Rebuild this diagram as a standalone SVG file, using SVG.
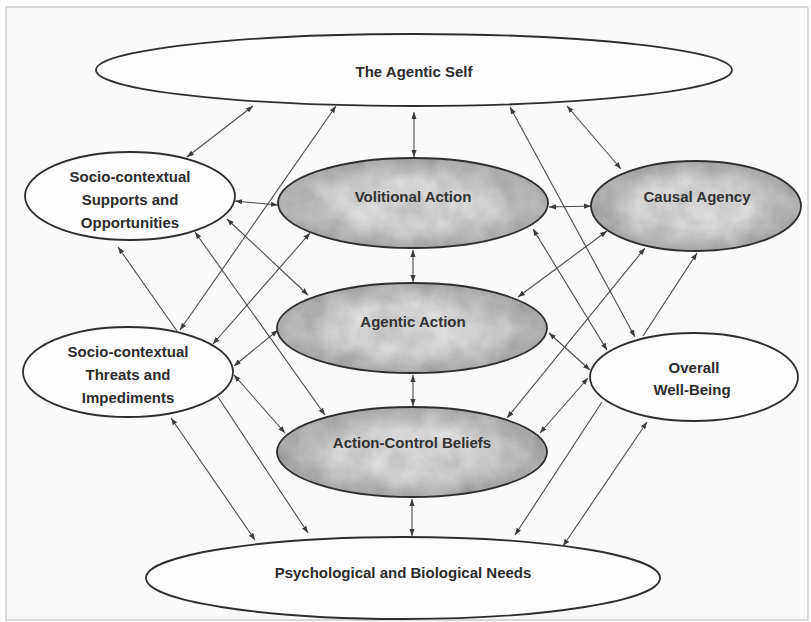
<svg xmlns="http://www.w3.org/2000/svg" width="811" height="622" viewBox="0 0 811 622">
  <style>
    .node { stroke: #2e2e2e; stroke-width: 1.8; }
    .plain { fill: #fdfdfd; }
    .lbl { font-family: "Liberation Sans", Arial, sans-serif; font-weight: bold; font-size: 15px; fill: #2c2c2c; text-anchor: middle; }
    .lbl.dark { fill: #333333; }
    .conn line { stroke: #4a4a4a; stroke-width: 1.1; fill: none; }
    .both { marker-start: url(#ah); marker-end: url(#ah); }
    .one { marker-end: url(#ah); }
  </style>
  <defs>
    <marker id="ah" viewBox="0 0 10 10" refX="10" refY="5" markerWidth="7" markerHeight="7" markerUnits="userSpaceOnUse" orient="auto-start-reverse">
      <path d="M0,1.3 L10,5 L0,8.7 z" fill="#3a3a3a"/>
    </marker>
    <filter id="mottle" x="0" y="0" width="1" height="1">
      <feTurbulence type="fractalNoise" baseFrequency="0.04" numOctaves="4" seed="7" result="noise"/>
      <feColorMatrix in="noise" type="matrix" values="0.34 0 0 0 0.46  0.34 0 0 0 0.46  0.34 0 0 0 0.46  0 0 0 0 1" result="gray"/>
      <feComposite in="gray" in2="SourceGraphic" operator="in"/>
    </filter>
    <radialGradient id="edge" cx="0.5" cy="0.5" r="0.5">
      <stop offset="0.5" stop-color="#000" stop-opacity="0"/>
      <stop offset="1" stop-color="#000" stop-opacity="0.2"/>
    </radialGradient>
  </defs>

  <rect x="0" y="0" width="811" height="622" fill="#ffffff"/>
  <rect x="6" y="7" width="802" height="613" fill="#fafafa" stroke="#cfcfcf" stroke-width="1.6"/>

  <g id="agentic-self">
    <ellipse class="node plain" cx="414" cy="70" rx="318" ry="36"/>
    <text class="lbl" x="414" y="77">The Agentic Self</text>
  </g>

  <g id="supports">
    <ellipse class="node plain" cx="130" cy="196" rx="105" ry="44"/>
    <text class="lbl" x="130" y="182">Socio-contextual</text>
    <text class="lbl" x="130" y="205">Supports and</text>
    <text class="lbl" x="130" y="228">Opportunities</text>
  </g>

  <g id="volitional-action">
    <ellipse cx="413" cy="203" rx="135" ry="45" fill="#aaa" filter="url(#mottle)"/>
    <ellipse class="node" cx="413" cy="203" rx="135" ry="45" fill="url(#edge)"/>
    <text class="lbl dark" x="413" y="202">Volitional Action</text>
  </g>

  <g id="causal-agency">
    <ellipse cx="696" cy="206" rx="105" ry="45" fill="#aaa" filter="url(#mottle)"/>
    <ellipse class="node" cx="696" cy="206" rx="105" ry="45" fill="url(#edge)"/>
    <text class="lbl dark" x="697" y="202">Causal Agency</text>
  </g>

  <g id="agentic-action">
    <ellipse cx="412" cy="328" rx="135" ry="45" fill="#aaa" filter="url(#mottle)"/>
    <ellipse class="node" cx="412" cy="328" rx="135" ry="45" fill="url(#edge)"/>
    <text class="lbl dark" x="413" y="327">Agentic Action</text>
  </g>

  <g id="threats">
    <ellipse class="node plain" cx="128" cy="372" rx="105" ry="45"/>
    <text class="lbl" x="128" y="357">Socio-contextual</text>
    <text class="lbl" x="128" y="380">Threats and</text>
    <text class="lbl" x="128" y="403">Impediments</text>
  </g>

  <g id="well-being">
    <ellipse class="node plain" cx="694" cy="377" rx="104" ry="44"/>
    <text class="lbl" x="694" y="373">Overall</text>
    <text class="lbl" x="692" y="395">Well-Being</text>
  </g>

  <g id="action-control-beliefs">
    <ellipse cx="412" cy="452" rx="135" ry="45" fill="#aaa" filter="url(#mottle)"/>
    <ellipse class="node" cx="412" cy="452" rx="135" ry="45" fill="url(#edge)"/>
    <text class="lbl dark" x="412" y="448">Action-Control Beliefs</text>
  </g>

  <g id="needs">
    <ellipse class="node plain" cx="403" cy="578" rx="257" ry="41"/>
    <text class="lbl" x="403" y="578">Psychological and Biological Needs</text>
  </g>

  <g id="connectors" class="conn">
    <!-- left side -->
    <line class="both" x1="253" y1="106" x2="187" y2="157"/>
    <line class="both" x1="336" y1="106" x2="180" y2="330"/>
    <line class="one" x1="177" y1="331" x2="118" y2="247"/>
    <line class="both" x1="235" y1="201" x2="278" y2="205"/>
    <line class="both" x1="227" y1="219" x2="308" y2="295"/>
    <line class="both" x1="195" y1="232" x2="325" y2="415"/>
    <line class="both" x1="310" y1="233" x2="213" y2="344"/>
    <line class="both" x1="278" y1="330" x2="234" y2="366"/>
    <line class="both" x1="234" y1="375" x2="285" y2="433"/>
    <line class="one" x1="218" y1="397" x2="308" y2="533"/>
    <line class="both" x1="171" y1="418" x2="255" y2="540"/>
    <!-- center column -->
    <line class="both" x1="414" y1="112" x2="414" y2="157"/>
    <line class="both" x1="413" y1="250" x2="413" y2="282"/>
    <line class="both" x1="413" y1="375" x2="413" y2="406"/>
    <line class="both" x1="412" y1="499" x2="412" y2="536"/>
    <!-- right side -->
    <line class="both" x1="567" y1="106" x2="621" y2="169"/>
    <line class="both" x1="510" y1="107" x2="635" y2="337"/>
    <line class="one" x1="643" y1="336" x2="697" y2="253"/>
    <line class="both" x1="549" y1="207" x2="591" y2="206"/>
    <line class="both" x1="607" y1="231" x2="518" y2="297"/>
    <line class="both" x1="645" y1="248" x2="507" y2="418"/>
    <line class="both" x1="533" y1="229" x2="607" y2="350"/>
    <line class="both" x1="549" y1="333" x2="590" y2="370"/>
    <line class="both" x1="588" y1="378" x2="540" y2="433"/>
    <line class="one" x1="602" y1="402" x2="515" y2="535"/>
    <line class="both" x1="647" y1="422" x2="563" y2="546"/>
  </g>
</svg>
